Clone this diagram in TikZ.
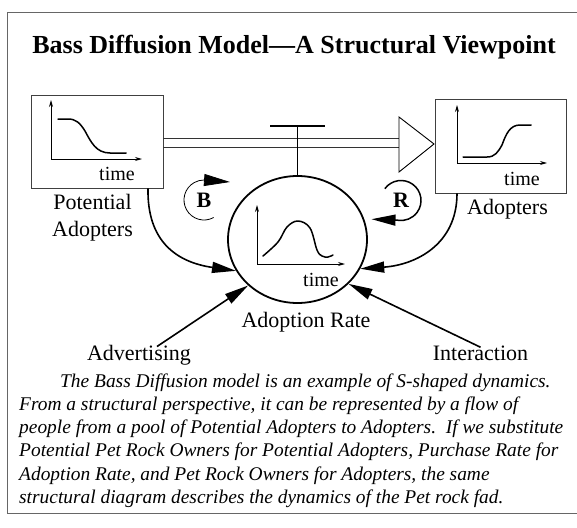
\documentclass[tikz,border=0pt]{standalone}
\usepackage{fontspec}
\setmainfont{Liberation Serif}
\usetikzlibrary{arrows.meta,shapes.geometric}
\begin{document}
\begin{tikzpicture}[x=1pt,y=-1pt,
  lbl/.style={font=\fontsize{22}{27}\selectfont, inner sep=0pt, align=center},
  tlbl/.style={font=\fontsize{20}{24}\selectfont, inner sep=0pt, anchor=base},
  bodyline/.style={font=\fontsize{19.4}{23}\selectfont\itshape, inner sep=0pt, anchor=base west},
  loopl/.style={font=\fontsize{22}{26}\selectfont\bfseries, inner sep=0pt},
  stockbox/.style={draw=black!75, line width=0.9pt, inner sep=0pt},
  axis/.style={line width=0.9pt, -{Stealth[length=7pt,width=4pt]}},
  curve/.style={line width=1.5pt, line cap=round, line join=round},
  bigarrow/.style={line width=1.6pt, -{Triangle[length=24pt,width=11pt]}},
  pipe/.style={line width=0.9pt, draw=black!80}]
\useasboundingbox (0,0) rectangle (577,527);

% frame
\draw[black!60, line width=1pt] (577,13) -- (7,13) -- (7,513) -- (577,513);

% title
\node[font=\fontsize{26}{30}\selectfont\bfseries, anchor=base, inner sep=0pt] (title) at (294,53) {Bass Diffusion Model—A Structural Viewpoint};

% stocks
\node[stockbox, minimum width=132, minimum height=93] (pbox) at (97,141.5) {};
\node[stockbox, minimum width=131, minimum height=94] (abox) at (500.5,146) {};

% potential adopters graph
\draw[axis] (51,159) -- (51,100);
\draw[axis] (51,159) -- (142,159);
\draw[curve] (58,119) -- (68,119) .. controls (76,119) and (80,123) .. (85,131)
  .. controls (91,142) and (96,153) .. (110,153) -- (126,153);
\node[tlbl] (ptime) at (117,180) {time};

% adopters graph
\draw[axis] (457,163) -- (457,105);
\draw[axis] (457,163) -- (547,163);
\draw[curve] (463,157) -- (487,157) .. controls (495,157) and (498,152) .. (502,145)
  .. controls (506,134) and (510,125) .. (520,125) -- (531,125);
\node[tlbl] (atime) at (522,185) {time};

% rate
\node[draw, ellipse, line width=1.8pt, minimum width=139, minimum height=127, inner sep=0pt] (rate) at (297.5,239.5) {};
\draw[axis] (257,264) -- (257,205);
\draw[axis] (257,264) -- (345,264);
\draw[curve] plot[smooth, tension=0.6] coordinates {(263,256) (278,242) (287,227) (298,221) (310,228) (317,250) (322,256) (328,257) (333,255)};
\node[tlbl] (rtime) at (321,286) {time};

% pipe and valve
\coordinate (pipeTop) at (399,138);
\coordinate (pipeBot) at (399,147);
\draw[pipe] (pbox.east |- pipeTop) -- (pipeTop);
\draw[pipe] (pbox.east |- pipeBot) -- (pipeBot);
\draw[line width=0.9pt, fill=white] (399,117) -- (434,144) -- (399,172) -- cycle;
\coordinate (valveTop) at (297.5,126);
\draw[line width=1.5pt] (270,126) -- (325,126);
\draw[line width=1.5pt] (valveTop) -- (rate.north);

% labels
\node[lbl] (plabel) at (92.5,218) {Potential\\Adopters};
\node[lbl, anchor=base] (alabel) at (507.5,214) {Adopters};
\node[lbl, anchor=base] (ratelabel) at (306,327) {Adoption Rate};
\node[lbl, anchor=base] (adv) at (139,360) {Advertising};
\node[lbl, anchor=base] (inter) at (480.5,360) {Interaction};

% links
\draw[bigarrow] ([xshift=51]pbox.south) .. controls (147,240) and (175,262) .. (rate.207);
\draw[bigarrow] ([xshift=-43.5]abox.south) .. controls (457,245) and (415,265) .. (rate.335);
\draw[bigarrow] ([xshift=18,yshift=-2]adv.north) -- (rate.223);
\draw[bigarrow] ([yshift=-2]inter.north) -- (rate.319);

% loop markers
\node[loopl] (B) at (204,200) {B};
\draw[line width=0.8pt, -{Triangle[length=26pt,width=12pt]}]
  ([shift={(-61:20pt)}]B.center) arc[start angle=-61, end angle=-270, radius=20pt] -- ++(26,2);
\node[loopl] (R) at (401,200.5) {R};
\draw[line width=1.5pt, -{Triangle[length=24pt,width=11pt]}]
  ([shift={(-216:20pt)}]R.center) arc[start angle=-216, end angle=-460, radius=20pt] -- ++(-26,-1);

% caption
\node[bodyline] (l1) at (60,387) {The Bass Diffusion model is an example of S-shaped dynamics.};
\node[bodyline] (l2) at (19,410.3) {From a structural perspective, it can be represented by a flow of};
\node[bodyline] (l3) at (19,433.6) {people from a pool of Potential Adopters to Adopters.\ \ If we substitute};
\node[bodyline] (l4) at (19,456.9) {Potential Pet Rock Owners for Potential Adopters, Purchase Rate for};
\node[bodyline] (l5) at (19,480.2) {Adoption Rate, and Pet Rock Owners for Adopters, the same};
\node[bodyline] (l6) at (19,503.5) {structural diagram describes the dynamics of the Pet rock fad.};
\end{tikzpicture}
\end{document}
